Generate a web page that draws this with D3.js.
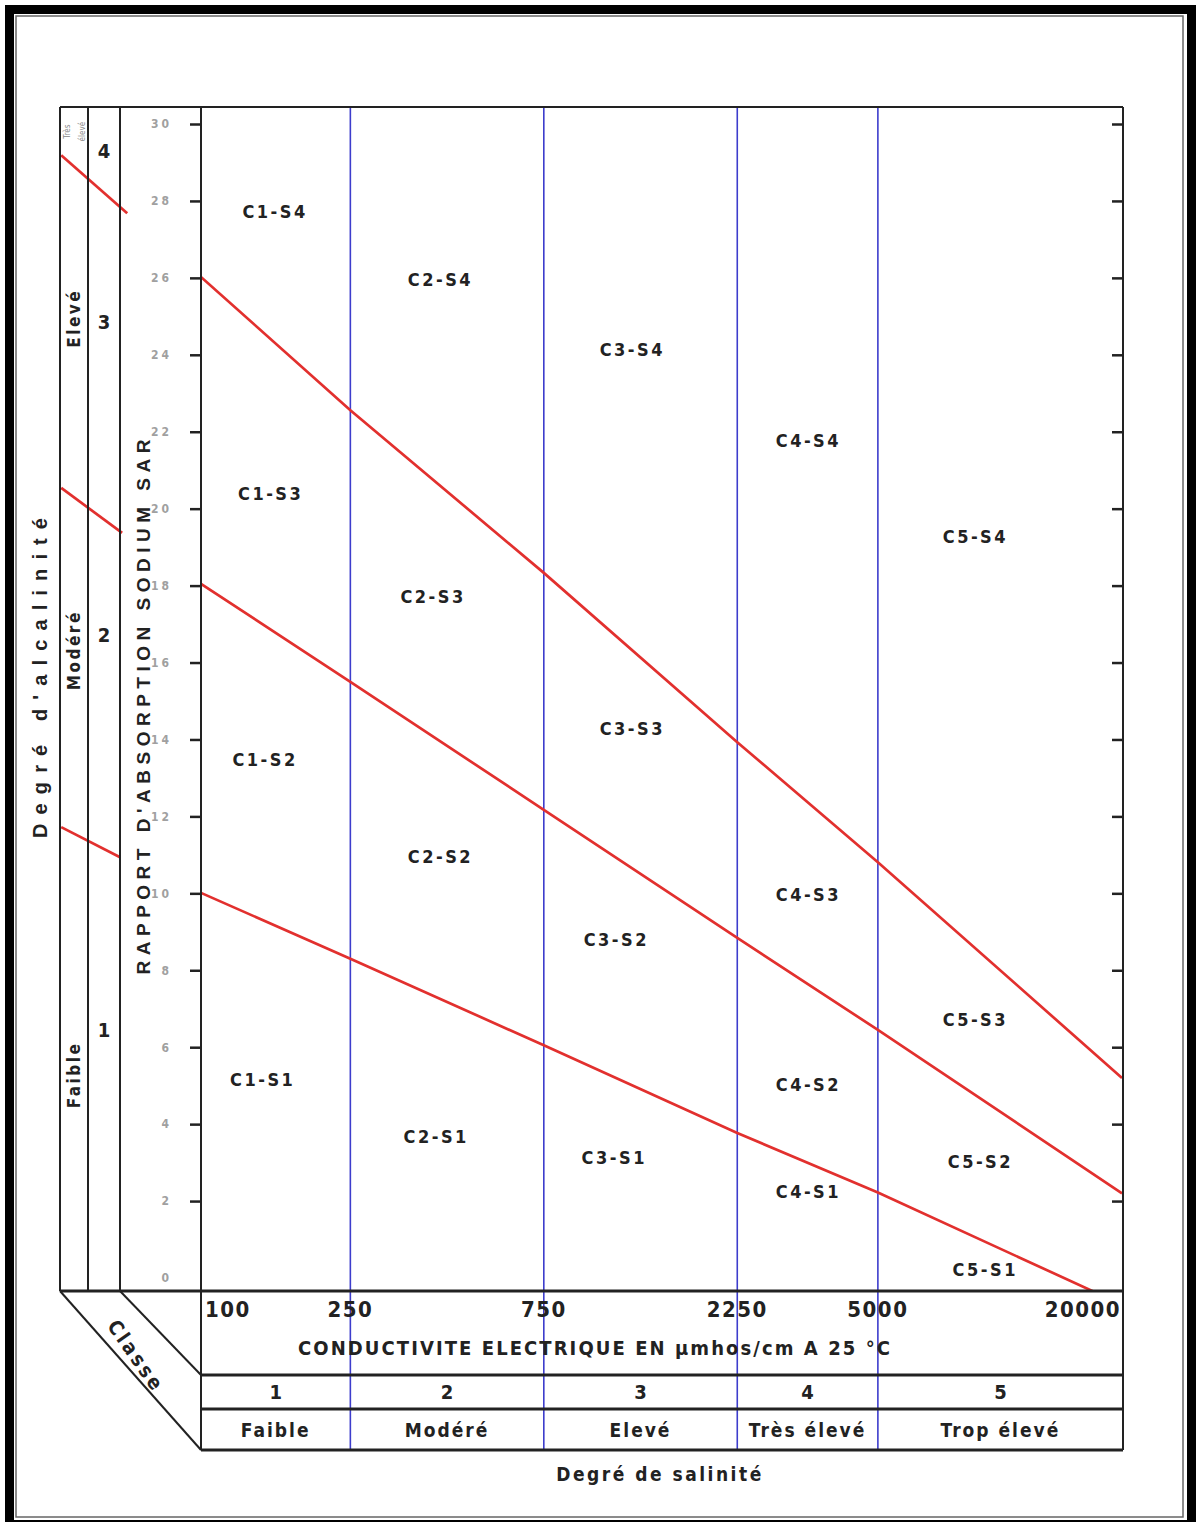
<!DOCTYPE html>
<html>
<head>
<meta charset="utf-8">
<script src="https://cdn.jsdelivr.net/npm/d3@7"></script>
<style>
  body { margin: 0; background: #fff; }
  text { font-family: "Liberation Sans Narrow", "Arial Narrow", "DejaVu Sans", sans-serif; font-stretch: condensed; font-weight: bold; fill: #222; }
</style>
</head>
<body>
<script>
// conductivity (µmhos/cm) labels and salinity class limits
const ecTicks = [100, 250, 750, 2250, 5000, 20000];
const classLimits = [250, 750, 2250, 5000];
const salClasses = ["1", "2", "3", "4", "5"];
const salNames = ["Faible", "Modéré", "Elevé", "Très élevé", "Trop élevé"];

// SAR ticks
const sarTicks = [0, 2, 4, 6, 8, 10, 12, 14, 16, 18, 20, 22, 24, 26, 28, 30];

// boundary lines (ec, sar)
const lineS1S2 = [[100, 10.15], [250, 8.3], [750, 6.05], [2250, 3.77], [5000, 2.22], [17000, -0.35]];
const lineS2S3 = [[100, 18.25], [250, 15.5], [750, 12.17], [2250, 8.84], [5000, 6.45], [20000, 2.2]];
const lineS3S4 = [[100, 26.3], [250, 22.56], [750, 18.33], [2250, 13.93], [5000, 10.81], [20000, 5.2]];

// little pieces of the same lines in the alkalinity strip
const stripS1S2 = [[48.4, 11.72], [67.6, 10.94]];
const stripS2S3 = [[48.4, 20.54], [68.4, 19.37]];
const stripS3S4 = [[48.4, 29.19], [70.4, 27.68]];

// alkalinity class labels (sar position)
const alkNumbers = [["4", 29.3], ["3", 24.85], ["2", 16.71], ["1", 6.45]];
const alkNames = [["Elevé", 24.95], ["Modéré", 16.32], ["Faible", 5.28]];

// zone labels: name, ec, sar
const zones = [
  ["C1-S4", 163, 27.71], ["C2-S4", 417, 25.94], ["C3-S4", 1240, 24.12], ["C4-S4", 3370, 21.76], ["C5-S4", 8700, 19.26],
  ["C1-S3", 159, 20.38], ["C2-S3", 400, 17.70], ["C3-S3", 1240, 14.27], ["C4-S3", 3370, 9.96], ["C5-S3", 8700, 6.71],
  ["C1-S2", 154, 13.47], ["C2-S2", 417, 10.94], ["C3-S2", 1132, 8.79], ["C4-S2", 3370, 5.02], ["C5-S2", 8950, 3.02],
  ["C1-S1", 152, 5.15], ["C2-S1", 407, 3.67], ["C3-S1", 1119, 3.12], ["C4-S1", 3370, 2.24], ["C5-S1", 9200, 0.21]
];

const w = 1197;
const h = 1522;
const plotL = 201, plotR = 1123, plotT = 107, plotB = 1291;
const stripX = [60, 88, 120];
const row1 = 1375, row2 = 1409, row3 = 1450;

const svg = d3.select('body')
  .append('svg')
  .attr('width', w)
  .attr('height', h);

svg.append('rect').attr('width', w).attr('height', h).attr('fill', '#fff');

// outer frame
svg.append('rect')
  .attr('x', 9.5).attr('y', 9.5).attr('width', 1182).attr('height', 1515)
  .attr('fill', 'none').attr('stroke', '#000').attr('stroke-width', 9);
svg.append('rect')
  .attr('x', 16).attr('y', 16).attr('width', 1167).attr('height', 1501)
  .attr('fill', 'none').attr('stroke', '#666').attr('stroke-width', 1.5);

const x = d3.scaleLog()
  .domain([100, 20000])
  .range([plotL - 12, plotR - 1]);

const y = d3.scaleLinear()
  .domain([0, 30])
  .range([plotB - 13, plotT + 17]);

svg.append('clipPath').attr('id', 'plot')
  .append('rect').attr('x', plotL).attr('y', plotT).attr('width', plotR - plotL).attr('height', plotB - plotT);

// blue class limits
svg.selectAll('.limit')
  .data(classLimits)
  .enter()
  .append('line')
  .attr('class', 'limit')
  .attr('x1', (d) => x(d)).attr('x2', (d) => x(d))
  .attr('y1', plotT).attr('y2', row3)
  .attr('stroke', '#3d3dcc')
  .attr('stroke-width', 1.6);

// red boundary lines
const line = d3.line().x((d) => x(d[0])).y((d) => y(d[1]));

svg.selectAll('.bound')
  .data([lineS1S2, lineS2S3, lineS3S4])
  .enter()
  .append('path')
  .attr('class', 'bound')
  .attr('d', line)
  .attr('clip-path', 'url(#plot)')
  .attr('fill', 'none')
  .attr('stroke', '#e2302e')
  .attr('stroke-width', 2.7);

svg.selectAll('.strip')
  .data([stripS1S2, stripS2S3, stripS3S4])
  .enter()
  .append('path')
  .attr('class', 'strip')
  .attr('d', line)
  .attr('fill', 'none')
  .attr('stroke', '#e2302e')
  .attr('stroke-width', 2.7);

// y axes
const yAxis = d3.axisLeft(y)
  .tickValues(sarTicks)
  .tickSize(11)
  .tickPadding(18)
  .tickFormat((d) => d);

const ya = svg.append('g')
  .attr('transform', 'translate(' + plotL + ',0)')
  .call(yAxis);
ya.select('.domain').remove();
ya.selectAll('.tick line').attr('stroke', '#222').attr('stroke-width', 2.5)
  .attr('opacity', (d) => d === 0 ? 0 : 1);
ya.selectAll('.tick text')
  .style('font-size', '12px')
  .style('fill', '#a0a0a0')
  .style('letter-spacing', '3px');

const ya2 = svg.append('g')
  .attr('transform', 'translate(' + plotR + ',0)')
  .call(d3.axisLeft(y).tickValues(sarTicks.filter((d) => d > 0)).tickSize(11).tickFormat(''));
ya2.select('.domain').remove();
ya2.selectAll('.tick line').attr('stroke', '#222').attr('stroke-width', 2.5);

// frame lines
const frame = [
  [stripX[0], plotT, plotR, plotT],
  [stripX[0], plotB, plotR, plotB],
  [plotL, plotT, plotL, row3],
  [plotR, plotT, plotR, row3],
  [stripX[0], plotT, stripX[0], plotB],
  [stripX[1], plotT, stripX[1], plotB],
  [stripX[2], plotT, stripX[2], plotB],
  [plotL, row1, plotR, row1],
  [plotL, row2, plotR, row2],
  [plotL, row3, plotR, row3],
  [stripX[0], plotB, plotL, row3],
  [stripX[2], plotB, plotL, row1]
];
svg.selectAll('.frame')
  .data(frame)
  .enter()
  .append('line')
  .attr('class', 'frame')
  .attr('x1', (d) => d[0]).attr('y1', (d) => d[1])
  .attr('x2', (d) => d[2]).attr('y2', (d) => d[3])
  .attr('stroke', '#222')
  .attr('stroke-width', (d, i) => (i === 1 || i >= 7 && i <= 9) ? 3 : 2);

// x tick labels
svg.selectAll('.xlab')
  .data(ecTicks)
  .enter()
  .append('text')
  .attr('class', 'xlab')
  .attr('x', (d, i) => i === 0 ? plotL + 4 : i === ecTicks.length - 1 ? plotR - 2 : x(d))
  .attr('y', 1317)
  .attr('text-anchor', (d, i) => i === 0 ? 'start' : i === ecTicks.length - 1 ? 'end' : 'middle')
  .style('font-size', '22px')
  .style('letter-spacing', '1.5px')
  .text((d) => d);

svg.append('text')
  .attr('x', 594).attr('y', 1355)
  .attr('text-anchor', 'middle')
  .attr('textLength', 592)
  .attr('lengthAdjust', 'spacing')
  .style('font-size', '20px')
  .text('CONDUCTIVITE ELECTRIQUE  EN  µmhos/cm  A 25  °C');

// salinity table
const edges = [plotL].concat(classLimits.map((d) => x(d))).concat([plotR]);
const centers = salClasses.map((d, i) => (edges[i] + edges[i + 1]) / 2);

svg.selectAll('.cls')
  .data(salClasses)
  .enter()
  .append('text')
  .attr('class', 'cls')
  .attr('x', (d, i) => centers[i])
  .attr('y', 1399)
  .attr('text-anchor', 'middle')
  .style('font-size', '20px')
  .text((d) => d);

svg.selectAll('.cname')
  .data(salNames)
  .enter()
  .append('text')
  .attr('class', 'cname')
  .attr('x', (d, i) => centers[i])
  .attr('y', 1437)
  .attr('text-anchor', 'middle')
  .style('font-size', '19px')
  .style('letter-spacing', '2px')
  .text((d) => d);

svg.append('text')
  .attr('x', 660).attr('y', 1481)
  .attr('text-anchor', 'middle')
  .style('font-size', '19px')
  .style('letter-spacing', '2.5px')
  .text('Degré de salinité');

svg.append('text')
  .attr('transform', 'translate(136,1356) rotate(55)')
  .attr('text-anchor', 'middle')
  .attr('dy', '0.35em')
  .style('font-size', '20px')
  .style('letter-spacing', '3px')
  .text('Classe');

// zone labels
svg.selectAll('.zone')
  .data(zones)
  .enter()
  .append('text')
  .attr('class', 'zone')
  .attr('x', (d) => x(d[1]))
  .attr('y', (d) => y(d[2]))
  .attr('dy', '0.35em')
  .attr('text-anchor', 'middle')
  .style('font-size', '18px')
  .style('letter-spacing', '2.5px')
  .text((d) => d[0]);

// alkalinity strip
svg.selectAll('.anum')
  .data(alkNumbers)
  .enter()
  .append('text')
  .attr('class', 'anum')
  .attr('x', (stripX[1] + stripX[2]) / 2)
  .attr('y', (d) => y(d[1]))
  .attr('dy', '0.35em')
  .attr('text-anchor', 'middle')
  .style('font-size', '20px')
  .text((d) => d[0]);

svg.selectAll('.aname')
  .data(alkNames)
  .enter()
  .append('text')
  .attr('class', 'aname')
  .attr('transform', (d) => 'translate(' + ((stripX[0] + stripX[1]) / 2) + ',' + y(d[1]) + ') rotate(-90)')
  .attr('dy', '0.35em')
  .attr('text-anchor', 'middle')
  .style('font-size', '17px')
  .style('letter-spacing', '2.5px')
  .text((d) => d[0]);

svg.selectAll('.tiny')
  .data(['Très', 'élevé'])
  .enter()
  .append('text')
  .attr('class', 'tiny')
  .attr('transform', (d, i) => 'translate(' + (67 + i * 15) + ',' + y(29.8) + ') rotate(-90)')
  .attr('dy', '0.35em')
  .attr('text-anchor', 'middle')
  .style('font-size', '8px')
  .style('font-weight', 'normal')
  .style('fill', '#888')
  .text((d) => d);

svg.append('text')
  .attr('transform', 'translate(40,678) rotate(-90)')
  .attr('text-anchor', 'middle')
  .attr('dy', '0.35em')
  .attr('textLength', 320)
  .attr('lengthAdjust', 'spacing')
  .style('font-family', '"Liberation Sans", Arial, sans-serif')
  .style('font-stretch', 'normal')
  .style('font-size', '20px')
  .text("Degré d'alcalinité");

svg.append('text')
  .attr('transform', 'translate(143,707) rotate(-90)')
  .attr('text-anchor', 'middle')
  .attr('dy', '0.35em')
  .attr('textLength', 535)
  .attr('lengthAdjust', 'spacing')
  .style('font-family', '"Liberation Sans", Arial, sans-serif')
  .style('font-stretch', 'normal')
  .style('font-size', '19px')
  .text("RAPPORT D'ABSORPTION SODIUM   SAR");
</script>
</body>
</html>
